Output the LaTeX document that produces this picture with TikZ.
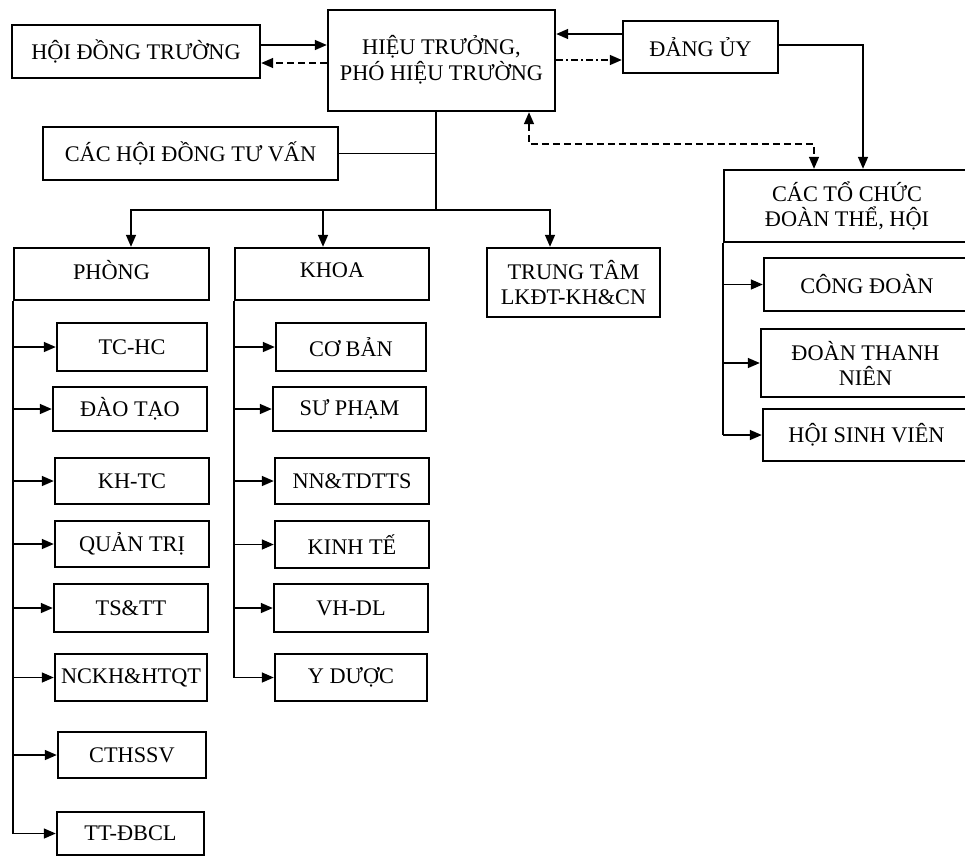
\documentclass[tikz,border=0pt]{standalone}
\usepackage{fontspec}
\setmainfont{Liberation Serif}
\usetikzlibrary{arrows.meta}
\begin{document}
\begin{tikzpicture}[x=1pt,y=-1pt,
  box/.style={draw, line width=2.4pt, inner sep=0pt, align=center, font=\fontsize{22.3}{25}\selectfont},
  con/.style={line width=1.5pt},
  tip/.tip={Triangle[length=12pt,width=10pt]},
  arr/.style={con, -tip},
  dsh/.style={dash pattern=on 7pt off 4pt},
  dshdot/.style={dash pattern=on 7pt off 3pt on 2pt off 3pt}]
\useasboundingbox (0,0) rectangle (965,857);
\clip (0,0) rectangle (965,857);
% top level
\node[box, minimum width=248pt, minimum height=53pt] (hdt) at (136,51.5) {HỘI ĐỒNG TRƯỜNG};
\node[box, minimum width=227pt, minimum height=101pt] (ht) at (441.5,60.5) {\raisebox{6pt}{\shortstack{HIỆU TRƯỞNG,\\PHÓ HIỆU TRƯỜNG}}};
\node[box, minimum width=295pt, minimum height=53pt] (chdtv) at (190.5,153.5) {CÁC HỘI ĐỒNG TƯ VẤN};
\node[box, minimum width=155pt, minimum height=52pt] (du) at (700.5,47) {ĐẢNG ỦY};
\node[box, minimum width=246pt, minimum height=72pt] (ctc) at (847,206) {CÁC TỔ CHỨC\\ĐOÀN THỂ, HỘI};
% second level
\node[box, minimum width=195pt, minimum height=52pt] (phong) at (111.5,274) {\raisebox{8pt}{PHÒNG}};
\node[box, minimum width=194pt, minimum height=52pt] (khoa) at (332,274) {\raisebox{8pt}{KHOA}};
\node[box, minimum width=173pt, minimum height=69pt] (tt) at (573.5,282.5) {TRUNG TÂM\\LKĐT-KH\&CN};
% phong children
\node[box, minimum width=150pt, minimum height=48pt] (tchc) at (132,347) {TC-HC};
\node[box, minimum width=154pt, minimum height=44pt] (daotao) at (130,409) {ĐÀO TẠO};
\node[box, minimum width=154pt, minimum height=46pt] (khtc) at (132,481) {KH-TC};
\node[box, minimum width=154pt, minimum height=46pt] (quantri) at (132,544) {QUẢN TRỊ};
\node[box, minimum width=154pt, minimum height=48pt] (tstt) at (131,608) {TS\&TT};
\node[box, minimum width=152pt, minimum height=47pt] (nckh) at (131,677.5) {NCKH\&HTQT};
\node[box, minimum width=148pt, minimum height=46pt] (cthssv) at (132,755) {CTHSSV};
\node[box, minimum width=147pt, minimum height=43pt] (ttdbcl) at (130.5,833.5) {TT-ĐBCL};
% khoa children
\node[box, minimum width=150pt, minimum height=48pt] (coban) at (351,347) {CƠ BẢN};
\node[box, minimum width=153pt, minimum height=44pt] (supham) at (349.5,409) {SƯ PHẠM};
\node[box, minimum width=154pt, minimum height=46pt] (nntd) at (352,481) {NN\&TDTTS};
\node[box, minimum width=154pt, minimum height=47pt] (kinhte) at (352,544.5) {KINH TẾ};
\node[box, minimum width=154pt, minimum height=48pt] (vhdl) at (351,608) {VH-DL};
\node[box, minimum width=152pt, minimum height=47pt] (yduoc) at (351,677.5) {Y DƯỢC};
% ctc children
\node[box, minimum width=206pt, minimum height=53pt] (congdoan) at (867,284.5) {CÔNG ĐOÀN};
\node[box, minimum width=209pt, minimum height=68pt] (doantn) at (865.5,363) {ĐOÀN THANH\\NIÊN};
\node[box, minimum width=207pt, minimum height=52pt] (hsv) at (866.5,435) {HỘI SINH VIÊN};
% connectors top
\draw[arr] ([yshift=6.5pt]hdt.east) -- ([yshift=6.5pt]hdt.east -| ht.west);
\draw[arr, dsh] ([yshift=-11.5pt]hdt.east -| ht.west) -- ([yshift=-11.5pt]hdt.east);
\draw[arr] ([yshift=13pt]du.west) -- ([yshift=13pt]du.west -| ht.east);
\draw[arr, dshdot] ([yshift=-13pt]du.west -| ht.east) -- ([yshift=-13pt]du.west);
\draw[arr] ([yshift=2pt]du.east) -| ([xshift=16pt]ctc.north);
\coordinate (dturn) at (814,144);
\draw[con, dsh, tip-tip] ([xshift=87.5pt]ht.south) |- (dturn) -- ([xshift=-33pt]ctc.north);
% trunk
\coordinate (branch) at (436,210);
\draw[con] (ht.south -| branch) -- (branch);
\draw[con] (chdtv.east) -- (chdtv.east -| branch);
\draw[arr] (branch) -| ([xshift=19.5pt]phong.north);
\draw[arr] (branch) -| ([xshift=-23.5pt]tt.north);
\draw[arr] ([xshift=-9pt]khoa.north |- branch) -- ([xshift=-9pt]khoa.north);
% phong trunk
\draw[con] (phong.south west) -- (phong.south west |- ttdbcl.west);
\foreach \n in {tchc,daotao,khtc,quantri,tstt,nckh,cthssv,ttdbcl}
  \draw[arr] (phong.south west |- \n.west) -- (\n.west);
% khoa trunk
\draw[con] (khoa.south west) -- (khoa.south west |- yduoc.west);
\foreach \n in {coban,supham,nntd,kinhte,vhdl,yduoc}
  \draw[arr] (khoa.south west |- \n.west) -- (\n.west);
% ctc trunk
\draw[con] (ctc.south west) -- (ctc.south west |- hsv.west);
\foreach \n in {congdoan,doantn,hsv}
  \draw[arr] (ctc.south west |- \n.west) -- (\n.west);
\end{tikzpicture}
\end{document}
